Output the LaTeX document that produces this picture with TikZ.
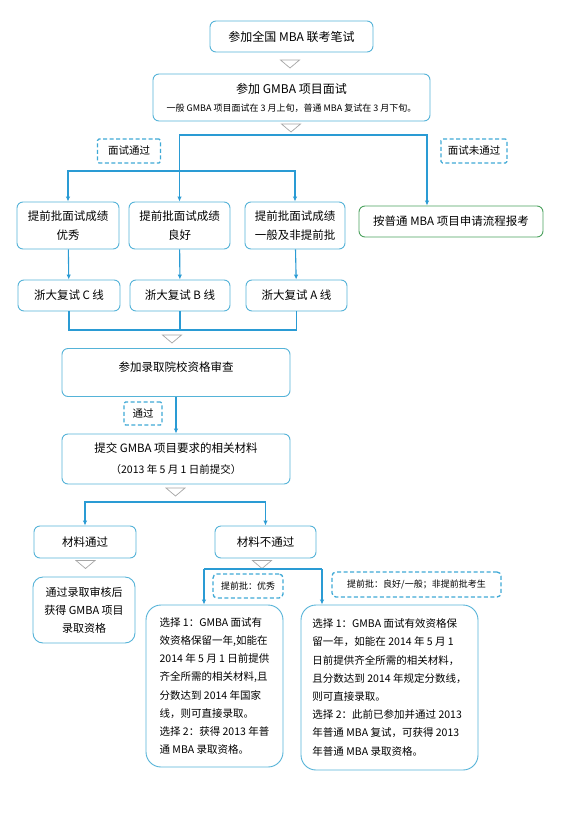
\documentclass[tikz,border=0pt]{standalone}
\usepackage{fontspec}
\setmainfont{Noto Sans CJK SC}
\usetikzlibrary{arrows.meta,calc}
\definecolor{boxblue}{HTML}{55B3D8}
\definecolor{arrowblue}{HTML}{2A9BD4}
\definecolor{tagblue}{HTML}{3FA9D6}
\definecolor{okgreen}{HTML}{4CA25E}
\definecolor{markgray}{HTML}{A6A6A6}

\begin{document}
\begin{tikzpicture}[x=1pt,y=-1pt,
  stage/.style={draw=boxblue,line width=0.9pt,rounded corners=6pt,fill=white,align=center,inner sep=2pt,font=\fontsize{11.5}{19}\selectfont},
  result/.style={stage,draw=okgreen},
  note/.style={stage,align=left,rounded corners=15pt,font=\fontsize{10.5}{18.2}\selectfont},
  dims/.style 2 args={minimum width=#1pt,minimum height=#2pt},
  tag/.style={draw=tagblue,line width=1.3pt,dash pattern=on 4pt off 2.5pt,rounded corners=1.5pt,align=center,inner sep=1pt,font=\fontsize{10.5}{12}\selectfont},
  smalltag/.style={tag,rounded corners=4pt,font=\fontsize{9}{11}\selectfont},
  link/.style={draw=arrowblue,line width=1.1pt,-{Latex[length=5pt,width=4.5pt]}},
  bar/.style={draw=arrowblue,line width=1.1pt},
  pointer/.pic={\draw[draw=markgray,fill=white,line width=0.7pt] (-9.5,-4) -- (9.5,-4) -- (0,4) -- cycle;}]
  \path[fill=white,use as bounding box] (0,0) rectangle (564,814);

  % written exam and interview
  \node[stage,dims={163}{31},font=\fontsize{12}{14}\selectfont] (exam) at (291.5,36.5) {参加全国 MBA 联考笔试};
  \pic at (290,64) {pointer};
  \node[stage,dims={277}{47},font=\fontsize{12}{14}\selectfont] (interview) at (291.5,97.5)
    {参加 GMBA 项目面试\\[4pt]{\fontsize{9}{11}\selectfont 一般 GMBA 项目面试在 3 月上旬，普通 MBA 复试在 3 月下旬。}};
  \pic at (291,128) {pointer};

  % interview result
  \node[tag,dims={63}{24}] (passed) at (129,151) {面试通过};
  \node[tag,dims={66}{24}] (failed) at (474,151) {面试未通过};
  \node[stage,dims={102}{47}] (gradeC) at (68,225.5) {提前批面试成绩\\优秀};
  \node[stage,dims={101}{47}] (gradeB) at (179.5,225.5) {提前批面试成绩\\良好};
  \node[stage,dims={100}{47}] (gradeA) at (295,225.5) {提前批面试成绩\\一般及非提前批};
  \node[result,dims={184}{31}] (normal) at (451,221.5) {按普通 MBA 项目申请流程报考};
  \node[stage,dims={102}{31}] (lineC) at (69,295.5) {浙大复试 C 线};
  \node[stage,dims={100}{31}] (lineB) at (180,295.5) {浙大复试 B 线};
  \node[stage,dims={101}{31}] (lineA) at (296.5,295.5) {浙大复试 A 线};

  \coordinate (fork) at (291,135);
  \coordinate (nopass) at (427,135);
  \coordinate (split) at (179.5,171);
  \draw[link] (fork) -| (gradeB.north);
  \draw[link] (fork) -- (nopass) -- (nopass |- normal.north);
  \draw[link] (split) -| (gradeC.north);
  \draw[link] (split) -| (gradeA.north);
  \draw[link] (gradeC) -- (lineC);
  \draw[link] (gradeB) -- (lineB);
  \draw[link] (gradeA) -- (lineA);

  \coordinate (merge) at (172,330);
  \draw[bar] (lineC.south) |- (lineA.south |- merge) -- (lineA.south);
  \draw[bar] (lineB.south) -- (lineB.south |- merge);
  \pic at (172,339) {pointer};

  % qualification check and materials
  \node[stage,dims={228}{48},text depth=11pt] (review) at (176,372.5) {参加录取院校资格审查};
  \node[tag,dims={38}{23}] (ok) at (143,413.5) {通过};
  \node[stage,dims={228}{50}] (submit) at (176,459)
    {提交 GMBA 项目要求的相关材料\\[2pt]{\fontsize{10.5}{12}\selectfont （2013 年 5 月 1 日前提交）}};
  \draw[link] (review) -- (submit);
  \pic at (175.5,492) {pointer};

  \coordinate (branch) at (175.5,502);
  \node[stage,dims={102}{32}] (matok) at (85,542) {材料通过};
  \node[stage,dims={101}{32}] (matfail) at (265.5,542) {材料不通过};
  \draw[link] (branch) -| (matok.north);
  \draw[link] (branch) -| (matfail.north);
  \pic at (85.5,564.5) {pointer};
  \pic at (262,564.5) {pointer};

  % outcomes
  \node[stage,dims={102}{66},rounded corners=10pt,font=\fontsize{11}{18}\selectfont] (admit) at (84,610)
    {通过录取审核后\\获得 GMBA 项目\\录取资格};
  \node[smalltag,dims={70}{24}] (early1) at (248,586) {提前批：优秀};
  \node[smalltag,dims={169}{25}] (early2) at (416.5,584.5) {提前批：良好/一般；非提前批考生};
  \node[note,dims={137}{162}] (optA) at (214.5,686)
    {选择 1：GMBA 面试有\\效资格保留一年,如能在\\2014 年 5 月 1 日前提供\\齐全所需的相关材料,且\\分数达到 2014 年国家\\线，则可直接录取。\\选择 2：获得 2013 年普\\通 MBA 录取资格。};
  \node[note,dims={177}{165}] (optB) at (389.5,687.5)
    {选择 1：GMBA 面试有效资格保\\留一年，如能在 2014 年 5 月 1\\日前提供齐全所需的相关材料，\\且分数达到 2014 年规定分数线，\\则可直接录取。\\选择 2：此前已参加并通过 2013\\年普通 MBA 复试，可获得 2013\\年普通 MBA 录取资格。};

  \coordinate (leftopt) at (204,569);
  \coordinate (rightopt) at (322,569);
  \draw[bar] (leftopt) -- (rightopt);
  \draw[link] (leftopt) -- (leftopt |- optA.north);
  \draw[link] (rightopt) -- (rightopt |- optB.north);
\end{tikzpicture}
\end{document}
